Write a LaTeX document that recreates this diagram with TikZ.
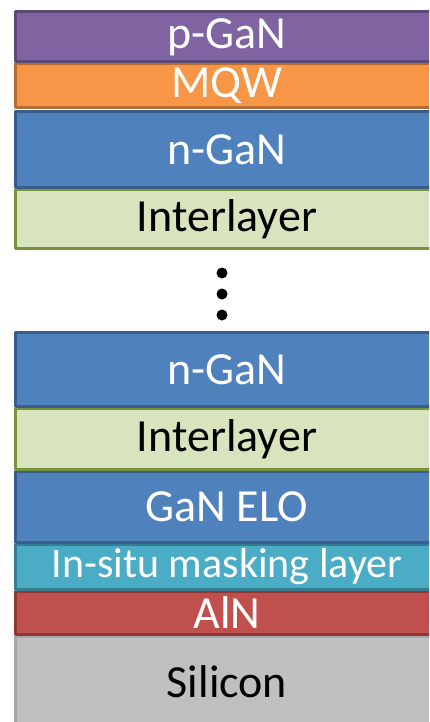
\documentclass[tikz,border=0pt]{standalone}
\usepackage{fontspec}
\setmainfont{Carlito}
\definecolor{pgan}{HTML}{8064A2}\definecolor{pganb}{HTML}{5C4776}
\definecolor{mqw}{HTML}{F79646}\definecolor{mqwb}{HTML}{B66D31}
\definecolor{ngan}{HTML}{4F81BD}\definecolor{nganb}{HTML}{385D8A}
\definecolor{inter}{HTML}{D7E4BD}\definecolor{interb}{HTML}{77933C}
\definecolor{insitu}{HTML}{4BACC6}\definecolor{insitub}{HTML}{357D91}
\definecolor{aln}{HTML}{C0504D}\definecolor{alnb}{HTML}{8C3836}
\definecolor{si}{HTML}{BFBFBF}\definecolor{sib}{HTML}{A6A6A6}
\tikzset{
  layer/.style={line width=3pt, line join=round},
  lab/.style={font=\fontsize{46}{50}\selectfont, inner sep=0pt, anchor=center},
  dotmark/.style={fill=black, draw=none}
}
\begin{document}
\begin{tikzpicture}[x=1pt,y=-1pt]
\useasboundingbox (0,0) rectangle (429,722);
\clip (0,0) rectangle (429,722);
% bottom-up drawing order
\draw[layer, fill=si, draw=sib] (15.5,636.5) rectangle (445,730);
\node[lab, text=black] (si) at (227,682) {Silicon};
\draw[layer, fill=aln, draw=alnb] (15.5,591.5) rectangle (445,634.5);
\node[lab, text=white] (aln) at (227,613) {AlN};
\draw[layer, fill=insitu, draw=insitub] (15.5,544.5) rectangle (445,589.5);
\node[lab, text=white, font=\fontsize{42}{46}\selectfont] (ins) at (227,567) {In-situ masking layer};
\draw[layer, fill=ngan, draw=nganb] (15.5,471.5) rectangle (445,542.5);
\node[lab, text=white] (elo) at (227,507) {GaN ELO};
\draw[layer, fill=inter, draw=interb] (15.5,408.5) rectangle (445,469.5);
\node[lab, text=black] (il2) at (227,439) {Interlayer};
\draw[layer, fill=ngan, draw=nganb] (15.5,332.5) rectangle (445,406.5);
\node[lab, text=white] (ng2) at (227,370) {n-GaN};
\fill[dotmark] (222,273) circle (5.5);
\fill[dotmark] (222,294) circle (5.5);
\fill[dotmark] (222,315) circle (5.5);
\draw[layer, fill=inter, draw=interb] (15.5,189.5) rectangle (445,248.5);
\node[lab, text=black] (il1) at (227,219) {Interlayer};
\draw[layer, fill=ngan, draw=nganb] (15.5,111.5) rectangle (445,187.5);
\node[lab, text=white] (ng1) at (227,150) {n-GaN};
\draw[layer, fill=mqw, draw=mqwb] (15.5,63.5) rectangle (445,107.5);
\node[lab, text=white] (mqw) at (227,86) {MQW};
\draw[layer, fill=pgan, draw=pganb] (15.5,11.5) rectangle (445,61.5);
\node[lab, text=white] (pg) at (227,37) {p-GaN};
\end{tikzpicture}
\end{document}
